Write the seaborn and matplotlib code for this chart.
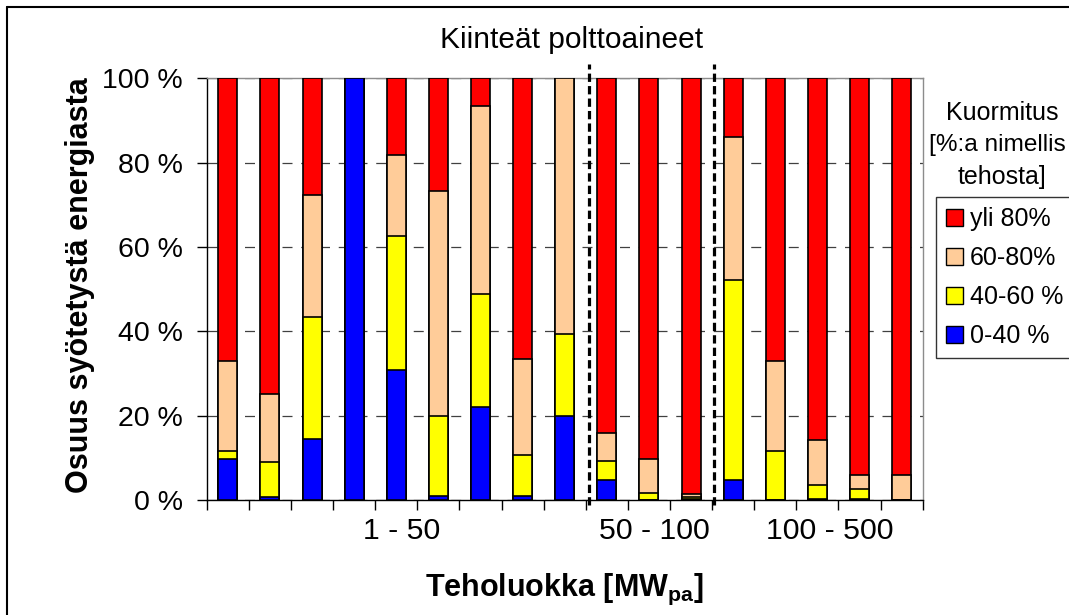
import numpy as np
import matplotlib
matplotlib.use("Agg")
import matplotlib.pyplot as plt
from matplotlib.patches import Patch
from matplotlib.lines import Line2D
import seaborn as sns

# Share of input energy by load level (% of nominal output), per plant
plants = [str(i) for i in range(1, 18)]
load_0_40 = [9.8, 0.8, 14.5, 100.0, 30.9, 1.0, 22.0, 1.0, 20.0,
             4.9, 0.0, 0.3,
             4.9, 0.0, 0.3, 0.3, 0.0]
load_40_60 = [2.0, 8.3, 29.0, 0.0, 31.7, 19.0, 26.9, 9.7, 19.3,
              4.5, 1.8, 0.6,
              47.2, 11.8, 3.4, 2.3, 0.0]
load_60_80 = [21.3, 16.1, 28.8, 0.0, 19.3, 53.4, 44.6, 22.8, 60.7,
              6.6, 8.0, 0.6,
              33.9, 21.3, 10.5, 3.5, 6.1]
load_over_80 = [66.9, 74.8, 27.7, 0.0, 18.1, 26.6, 6.5, 66.5, 0.0,
                84.0, 90.2, 98.5,
                14.0, 66.9, 85.8, 93.9, 93.9]

series_labels = ["yli 80%", "60-80%", "40-60 %", "0-40 %"]
series_colors = ["#FF0000", "#FFCC99", "#FFFF00", "#0000FF"]

group_labels = ["1 - 50", "50 - 100", "100 - 500"]
group_label_pos = [4.13, 10.14, 14.29]
group_breaks = [8.57, 11.54]

y_ticks = [0, 20, 40, 60, 80, 100]

sns.set_style("white")
plt.rcParams["font.family"] = ["Liberation Sans", "DejaVu Sans"]
plt.rcParams["mathtext.fontset"] = "custom"
plt.rcParams["mathtext.rm"] = "Liberation Sans"
plt.rcParams["mathtext.bf"] = "Liberation Sans:bold"
for key in ["text.color", "axes.labelcolor", "xtick.color", "ytick.color"]:
    plt.rcParams[key] = "black"

fig = plt.figure(figsize=(10.69, 6.15), dpi=100)
ax = fig.add_axes([0.1934, 0.1865, 0.6697, 0.6862])

# stacked bars drawn as overlapping cumulative totals
b = np.array(load_0_40)
y = b + np.array(load_40_60)
p = y + np.array(load_60_80)
r = p + np.array(load_over_80)
for heights, col in zip([r, p, y, b], series_colors):
    sns.barplot(x=plants, y=heights, color=col, saturation=1, width=0.45,
                edgecolor="black", linewidth=1.2, errorbar=None, ax=ax,
                zorder=3)

ax.set_xlim(-0.5, 16.5)
ax.set_ylim(0, 100)
ax.set_yticks(y_ticks)
ax.set_yticklabels([f"{v} %" for v in y_ticks], fontsize=20.5)
ax.tick_params(axis="y", direction="out", length=7.2, width=1, pad=10,
               colors="black", left=True)

ax.set_xticks(np.arange(-0.5, 17, 1))
ax.set_xticklabels([])
ax.set_xticks(group_label_pos, minor=True)
ax.set_xticklabels(group_labels, minor=True, fontsize=21.8)
ax.tick_params(axis="x", which="major", direction="out", length=7.2,
               width=1, bottom=True, colors="black")
ax.tick_params(axis="x", which="minor", length=0, pad=12, colors="black")
ax.set_xlabel("")
ax.set_ylabel("")

ax.yaxis.grid(True, linestyle=(0, (8, 7)), color="#404040", linewidth=0.9)
ax.xaxis.grid(False)
ax.set_axisbelow(True)

for side in ["left", "bottom"]:
    ax.spines[side].set_color("black")
    ax.spines[side].set_linewidth(1.0)
for side in ["top", "right"]:
    ax.spines[side].set_color("#8c8c8c")
    ax.spines[side].set_linewidth(1.0)

# dashed separators between size classes
for xb in group_breaks:
    ax.plot([xb, xb], [-1.1, 103.4], color="black", linewidth=2.3,
            linestyle=(0, (2.6, 1.3)), clip_on=False, zorder=5)

fig.text(572 / 1069, 1 - 40 / 615, "Kiinteät polttoaineet", fontsize=21.5,
         ha="center", va="center")
fig.text(80 / 1069, 1 - 285 / 615, "Osuus syötetystä energiasta",
         fontsize=22, fontweight="bold", rotation=90, ha="center", va="center")
fig.text(564 / 1069, 1 - 596 / 615, r"Teholuokka [MW$_\mathbf{pa}$]",
         fontsize=22, fontweight="bold", ha="center", va="baseline")

# legend heading, three lines
fig.text(1002 / 1069, 1 - 113 / 615, "Kuormitus",
         fontsize=18, ha="center", va="center")
fig.text(1066 / 1069, 1 - 145 / 615, "[%:a nimellis",
         fontsize=17.6, ha="right", va="center")
fig.text(1002 / 1069, 1 - 177 / 615, "tehosta]",
         fontsize=18, ha="center", va="center")

handles = [Patch(facecolor=c, edgecolor="black", linewidth=1.0)
           for c in series_colors]
leg = fig.legend(handles, series_labels, loc="upper left",
                 bbox_to_anchor=(936 / 1069, 1 - 197 / 615), fontsize=18,
                 frameon=True, fancybox=False, shadow=False,
                 handlelength=0.66, handleheight=0.66, handletextpad=0.3,
                 labelspacing=0.6, borderpad=0.4, borderaxespad=0)
leg.get_frame().set_edgecolor("black")
leg.get_frame().set_linewidth(1.0)

# outer frame of the chart area
fig.add_artist(Line2D([7 / 1069, 7 / 1069], [0, 1 - 6.7 / 615],
                      transform=fig.transFigure, color="black", linewidth=1.5))
fig.add_artist(Line2D([7 / 1069, 1], [1 - 6.7 / 615, 1 - 6.7 / 615],
                      transform=fig.transFigure, color="black", linewidth=1.5))

fig.savefig("out.png", dpi=100)
